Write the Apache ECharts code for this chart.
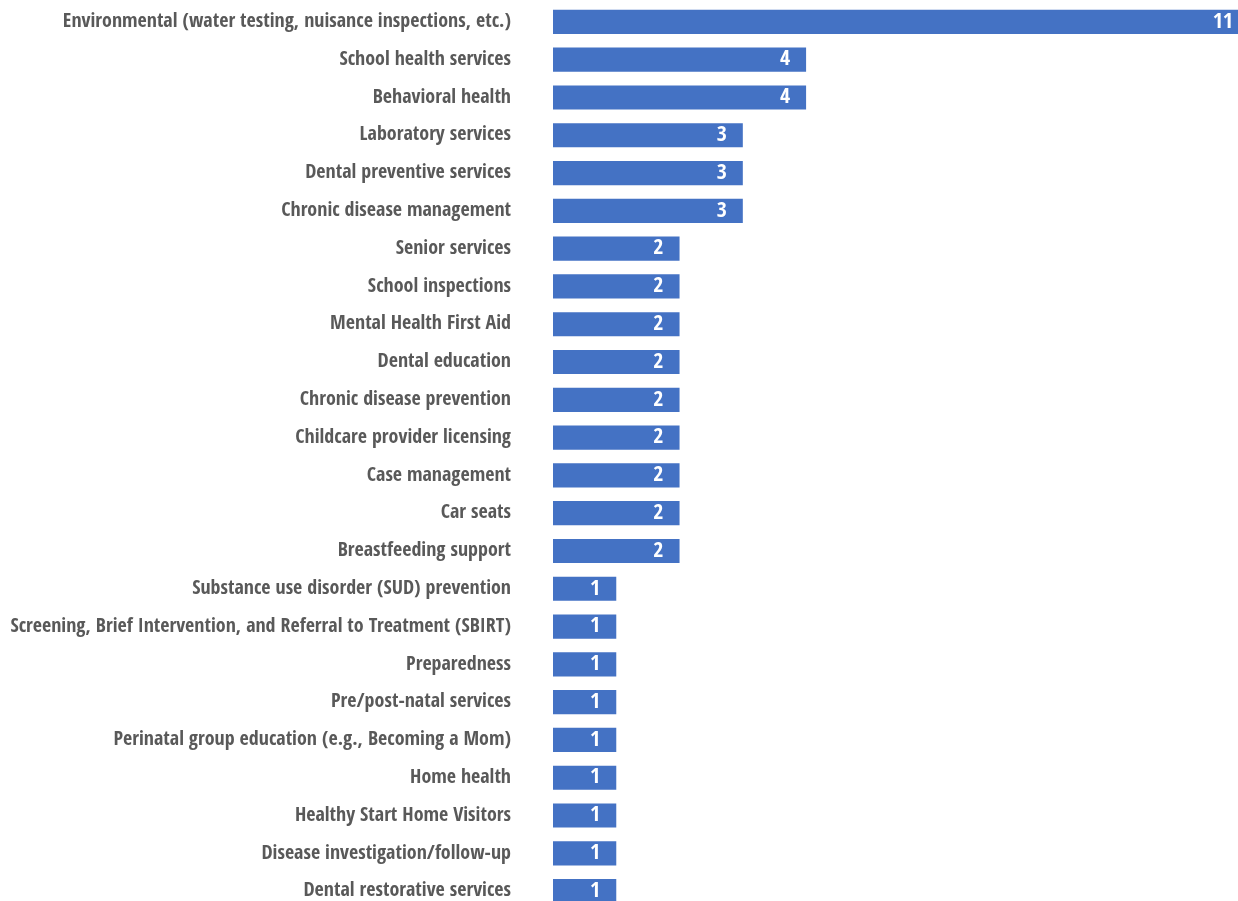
<!DOCTYPE html>
<html>
<head>
<meta charset="utf-8">
<script src="https://cdn.jsdelivr.net/npm/echarts@6/dist/echarts.min.js"></script>
<style>
  html, body { margin: 0; padding: 0; background: #ffffff; }
  #chart { width: 1238px; height: 901px; }
</style>
</head>
<body>
<div id="chart"></div>
<script>
// Services offered, listed top to bottom
const categories = [
  'Environmental (water testing, nuisance inspections, etc.)',
  'School health services',
  'Behavioral health',
  'Laboratory services',
  'Dental preventive services',
  'Chronic disease management',
  'Senior services',
  'School inspections',
  'Mental Health First Aid',
  'Dental education',
  'Chronic disease prevention',
  'Childcare provider licensing',
  'Case management',
  'Car seats',
  'Breastfeeding support',
  'Substance use disorder (SUD) prevention',
  'Screening, Brief Intervention, and Referral to Treatment (SBIRT)',
  'Preparedness',
  'Pre/post-natal services',
  'Perinatal group education (e.g., Becoming a Mom)',
  'Home health',
  'Healthy Start Home Visitors',
  'Disease investigation/follow-up',
  'Dental restorative services'
];
const counts = [11, 4, 4, 3, 3, 3, 2, 2, 2, 2, 2, 2, 2, 2, 2, 1, 1, 1, 1, 1, 1, 1, 1, 1];

const FONT = '"Open Sans Condensed", "Roboto Condensed", "DejaVu Sans Condensed", sans-serif';

const chart = echarts.init(document.getElementById('chart'), null, { renderer: 'canvas' });
chart.setOption({
  animation: false,
  grid: {
    left: 553, right: -11, top: 3, bottom: -9,
    containLabel: false,
    outerBoundsMode: 'none'
  },
  xAxis: {
    type: 'value', min: 0, max: 11, show: false
  },
  yAxis: {
    type: 'category',
    data: categories,
    inverse: true,
    axisLine: { show: false },
    axisTick: { show: false },
    splitLine: { show: false },
    axisLabel: {
      margin: 42,
      color: '#595959',
      fontFamily: FONT,
      fontWeight: 'bold',
      fontSize: 20,
      padding: [4, 0, 0, 0]
    }
  },
  series: [{
    type: 'bar',
    data: counts,
    barCategoryGap: '36%',
    itemStyle: { color: '#4472C4' },
    label: {
      show: true,
      position: 'insideRight',
      distance: 16,
      color: '#ffffff',
      fontFamily: FONT,
      fontWeight: 'bold',
      fontSize: 22,
      padding: [4, 0, 0, 0]
    }
  }]
});
</script>
</body>
</html>
